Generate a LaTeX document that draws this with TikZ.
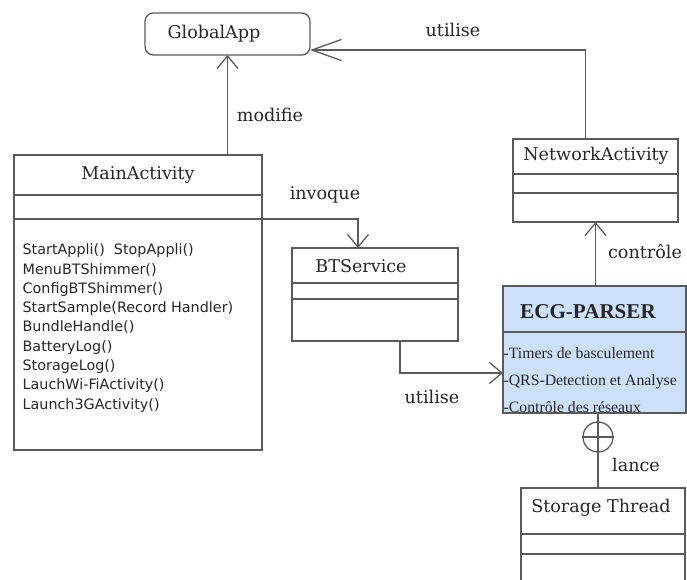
\documentclass[tikz,border=0pt]{standalone}
\usepackage{fontspec}
\setmainfont{DejaVu Serif}
\setsansfont{DejaVu Sans}
\newfontfamily\timesfont{Liberation Serif}
\usetikzlibrary{arrows.meta,positioning,calc}

\definecolor{umlline}{RGB}{90,90,90}
\definecolor{parserblue}{RGB}{204,224,250}

\begin{document}
\begin{tikzpicture}[x=0.025cm, y=-0.025cm, line width=0.9pt,
	every node/.style={font=\fontsize{12.5}{15}\selectfont, text=black!85},
	cls/.style={draw=umlline, anchor=north west, inner sep=0pt, outer sep=0pt},
	sep/.style={draw=umlline},
	lnk/.style={draw=umlline, -{Straight Barb[length=9pt,width=15pt]}},
	biglnk/.style={draw=umlline, -{Straight Barb[length=21pt,width=15pt]}}]
	\useasboundingbox (0,0) rectangle (687,580);
	\clip (0,0) rectangle (687,580);

	% classes
	\node[cls, rounded corners=6pt, minimum width=4.125cm, minimum height=1.05cm] (global) at (145,13) {};
	\node (globaltitle) at (214,34) {GlobalApp};

	\node[cls, minimum width=6.2cm, minimum height=7.375cm] (main) at (14,155) {};
	\node (maintitle) at (138,175) {MainActivity};
	\draw[sep] ($(main.north west)+(0,40)$) -- ($(main.north east)+(0,40)$);
	\draw[sep] ($(main.north west)+(0,64)$) coordinate (mainsep) -- ($(main.north east)+(0,64)$);
	\node[font=\sffamily\fontsize{10.2}{13.7}\selectfont, align=left, anchor=west, inner sep=0pt] (mainops) at (22,328)
		{StartAppli()\ \ StopAppli()\\MenuBTShimmer()\\ConfigBTShimmer()\\StartSample(Record Handler)\\BundleHandle()\\BatteryLog()\\StorageLog()\\LauchWi-FiActivity()\\Launch3GActivity()};

	\node[cls, minimum width=4.15cm, minimum height=2.325cm] (bts) at (292,248) {};
	\node (btstitle) at (361,266) {BTService};
	\draw[sep] ($(bts.north west)+(0,35)$) -- ($(bts.north east)+(0,35)$);
	\draw[sep] ($(bts.north west)+(0,51)$) -- ($(bts.north east)+(0,51)$);

	\node[cls, minimum width=4.125cm, minimum height=2.075cm] (net) at (513,139) {};
	\node (nettitle) at (596,156) {NetworkActivity};
	\draw[sep] ($(net.north west)+(0,35)$) -- ($(net.north east)+(0,35)$);
	\draw[sep] ($(net.north west)+(0,54)$) -- ($(net.north east)+(0,54)$);

	\node[cls, fill=parserblue, minimum width=4.575cm, minimum height=3.175cm] (ecg) at (503,286) {};
	\node[font=\timesfont\bfseries\fontsize{15}{18}\selectfont] (ecgtitle) at (588,312) {ECG-PARSER};
	\draw[sep] ($(ecg.north west)+(0,46)$) -- ($(ecg.north east)+(0,46)$);
	\node[font=\timesfont\fontsize{11.2}{19.2}\selectfont, align=left, anchor=west, inner sep=0pt] (ecgops) at (503,380)
		{-Timers de basculement\\-QRS-Detection et Analyse\\-Contrôle des réseaux};

	\node[cls, minimum width=4.1cm, minimum height=2.8cm] (sto) at (521,488) {};
	\node (stotitle) at (601,508) {Storage Thread};
	\draw[sep] ($(sto.north west)+(0,46)$) -- ($(sto.north east)+(0,46)$);
	\draw[sep] ($(sto.north west)+(0,66)$) -- ($(sto.north east)+(0,66)$);

	% links
	\draw[lnk] (global.south |- main.north) -- (global.south);
	\node (modlbl) at (270,115) {modifie};

	\draw[biglnk] ([xshift=-0.25cm]net.north) |- ($(global.south east)+(0,-5)$);
	\node (uselbl) at (453,30) {utilise};

	\draw[lnk] (main.east |- mainsep) -| ([xshift=-0.425cm]bts.north);
	\node (invlbl) at (325,195) {invoque};

	\coordinate (ecgin) at ($(ecg.north west)+(0,87)$);
	\draw[lnk] ([xshift=0.625cm]bts.south) |- (ecgin);
	\node (uselbl2) at (432,397) {utilise};

	\draw[lnk] (net.south |- ecg.north) -- (net.south);
	\node (ctllbl) at (645,252) {contrôle};

	\node[draw=umlline, circle, minimum size=0.75cm, inner sep=0pt] (plus) at (598,437) {};
	\draw[sep] (plus.north) -- (plus.south) (plus.west) -- (plus.east);
	\draw[sep] (ecg.south -| plus) -- (plus.north) (plus.south) -- (sto.north -| plus);
	\node (lancelbl) at (636,465) {lance};
\end{tikzpicture}
\end{document}
